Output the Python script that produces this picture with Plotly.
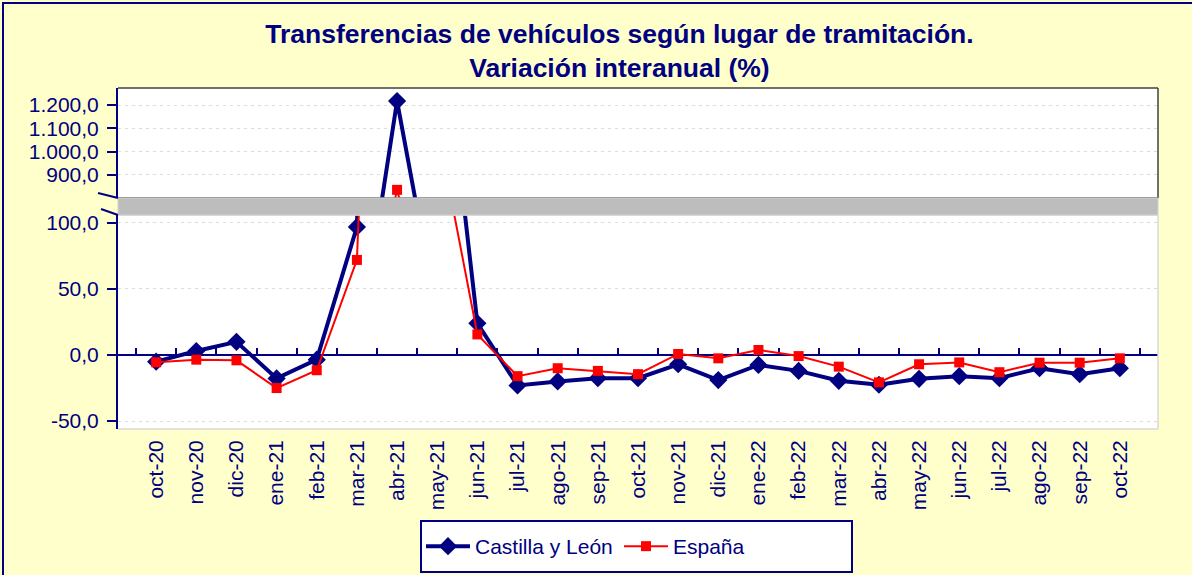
import plotly.graph_objects as go

# ---------------- data ----------------
months = ["oct-20", "nov-20", "dic-20", "ene-21", "feb-21", "mar-21", "abr-21",
          "may-21", "jun-21", "jul-21", "ago-21", "sep-21", "oct-21", "nov-21",
          "dic-21", "ene-22", "feb-22", "mar-22", "abr-22", "may-22", "jun-22",
          "jul-22", "ago-22", "sep-22", "oct-22"]
castilla_leon = [-5.0, 3.0, 10.0, -17.7, -3.5, 97.0, 1217.0, 290.0, 24.0,
                 -23.0, -20.0, -17.5, -17.5, -7.0, -19.0, -7.5, -12.0, -19.5,
                 -22.5, -18.0, -16.0, -17.5, -10.0, -14.5, -10.0]
espana = [-5.5, -3.5, -4.0, -25.0, -11.5, 72.0, 836.0, 173.0, 15.6,
          -16.0, -10.0, -12.0, -14.5, 0.8, -2.5, 3.8, -0.8, -8.8,
          -20.7, -7.0, -5.6, -13.0, -5.8, -5.8, -2.5]
low_ticks = [-50, 0, 50, 100]
low_ticktext = ["-50,0", "0,0", "50,0", "100,0"]
up_ticks = [900, 1000, 1100, 1200]
up_ticktext = ["900,0", "1.000,0", "1.100,0", "1.200,0"]
title_text = "Transferencias de vehículos según lugar de tramitación.<br>Variación interanual (%)"

# ---------------- geometry / style ----------------
W, H = 1192, 575
NAVY = "#000080"
RED = "#FF0000"
FONT = "Liberation Sans, Arial, sans-serif"
X_DOM = [118 / W, 1158 / W]
UP_DOM = [1 - 198 / H, 1 - 88 / H]
LO_DOM = [1 - 429 / H, 1 - 215 / H]
LO_RNG = [-56, 106]
UP_RNG = [801, 1273]
X_RNG = [-0.95, len(months) - 1 + 0.95]
zero_pos = LO_DOM[0] + (0 - LO_RNG[0]) / (LO_RNG[1] - LO_RNG[0]) * (LO_DOM[1] - LO_DOM[0])

fig = go.Figure()
for yax, show in (("y", True), ("y2", False)):
    fig.add_trace(go.Scatter(
        x=months, y=castilla_leon, name="Castilla y León", mode="lines+markers",
        line=dict(color=NAVY, width=4), marker=dict(symbol="diamond", size=14, color=NAVY),
        xaxis="x", yaxis=yax, showlegend=show, legendgroup="cyl"))
    fig.add_trace(go.Scatter(
        x=months, y=espana, name="España", mode="lines+markers",
        line=dict(color=RED, width=2), marker=dict(symbol="square", size=10, color=RED),
        xaxis="x", yaxis=yax, showlegend=show, legendgroup="esp"))
# helper trace so the tick axis on the zero line exists
fig.add_trace(go.Scatter(x=months, y=[None] * len(months), xaxis="x2", yaxis="y",
                         showlegend=False, hoverinfo="skip", mode="lines"))

yaxis_common = dict(
    showline=True, linecolor=NAVY, linewidth=2,
    ticks="outside", ticklen=9, tickwidth=2, tickcolor=NAVY,
    tickfont=dict(family=FONT, size=21, color=NAVY),
    showgrid=True, gridcolor="#DDDDDD", gridwidth=1, griddash="3px,4px",
    tickmode="array", ticklabelstandoff=4, automargin=False, fixedrange=True,
)

fig.update_layout(
    width=W, height=H, template="none",
    margin=dict(l=0, r=0, t=0, b=0, pad=0),
    paper_bgcolor="#FFFFCC", plot_bgcolor="white",
    font=dict(family=FONT, color=NAVY),
    separators=",.",
    title=dict(text=title_text, x=0.5197, xanchor="center", y=1 - 43 / H, yanchor="middle",
               font=dict(family=FONT, size=26.5, color=NAVY, weight="bold")),
    xaxis=dict(domain=X_DOM, anchor="y", type="category", categoryorder="array",
               categoryarray=months, range=X_RNG, showline=False, ticks="",
               showgrid=False, zeroline=False, tickangle=-90,
               tickfont=dict(family=FONT, size=21, color=NAVY),
               ticklabelstandoff=6, automargin=False, fixedrange=True),
    xaxis2=dict(overlaying="x", anchor="free", position=zero_pos, type="category",
                categoryorder="array", categoryarray=months, range=X_RNG,
                showline=False, ticks="inside", tickson="boundaries", ticklen=7,
                tickwidth=2, tickcolor=NAVY, showticklabels=False, showgrid=False,
                zeroline=False, layer="below traces", automargin=False, fixedrange=True),
    yaxis=dict(domain=LO_DOM, anchor="x", range=LO_RNG, tickvals=low_ticks,
               ticktext=low_ticktext, zeroline=True, zerolinecolor=NAVY,
               zerolinewidth=2, **yaxis_common),
    yaxis2=dict(domain=UP_DOM, anchor="x", range=UP_RNG, tickvals=up_ticks,
                ticktext=up_ticktext, zeroline=False, **yaxis_common),
    legend=dict(orientation="h", x=421 / W, xanchor="left", y=1 - 546.5 / H,
                yanchor="middle", bgcolor="rgba(0,0,0,0)", borderwidth=0,
                itemwidth=44, entrywidth=139, entrywidthmode="pixels",
                font=dict(family=FONT, size=21, color=NAVY)),
    hovermode=False,
)

shapes = []
# outer chart border (right/bottom edges run off the picture)
shapes.append(dict(type="rect", xref="paper", yref="paper", x0=3 / W, x1=1.05,
                   y0=-0.05, y1=1 - 3 / H, line=dict(color=NAVY, width=2),
                   fillcolor="rgba(0,0,0,0)", layer="below"))
# legend box
shapes.append(dict(type="rect", xref="paper", yref="paper", x0=421 / W, x1=852 / W,
                   y0=1 - 572 / H, y1=1 - 521 / H, line=dict(color=NAVY, width=2),
                   fillcolor="white", layer="below"))
# borders of the two plot sections (top, right, bottom)
for yref, col in (("y2 domain", "#404040"), ("y domain", "#D9D9D9")):
    shapes.append(dict(type="line", xref="x domain", yref=yref, x0=0, x1=1, y0=1, y1=1,
                       line=dict(color=col, width=1.5), layer="above"))
    shapes.append(dict(type="line", xref="x domain", yref=yref, x0=1, x1=1, y0=0, y1=1,
                       line=dict(color=col, width=1.5), layer="above"))
    shapes.append(dict(type="line", xref="x domain", yref=yref, x0=0, x1=1, y0=0, y1=0,
                       line=dict(color=col, width=1.5), layer="above"))
# grey axis-break band
shapes.append(dict(type="rect", xref="paper", yref="paper", x0=X_DOM[0], x1=X_DOM[1],
                   y0=LO_DOM[1], y1=UP_DOM[0], fillcolor="#BDBDBD",
                   line=dict(color="#D0D0D0", width=1), layer="above"))
# break marks on the value axis
shapes.append(dict(type="line", xref="paper", yref="paper", x0=X_DOM[0] - 20 / W,
                   x1=X_DOM[0], y0=UP_DOM[0] + 5 / H, y1=UP_DOM[0],
                   line=dict(color=NAVY, width=2), layer="above"))
shapes.append(dict(type="line", xref="paper", yref="paper", x0=X_DOM[0] - 17 / W,
                   x1=X_DOM[0], y0=LO_DOM[1] + 6 / H, y1=LO_DOM[1],
                   line=dict(color=NAVY, width=2), layer="above"))
fig.update_layout(shapes=shapes)

fig.write_html("out.html", config={"displayModeBar": False},
               post_script="document.body.style.margin='0';document.body.style.overflow='hidden';")
